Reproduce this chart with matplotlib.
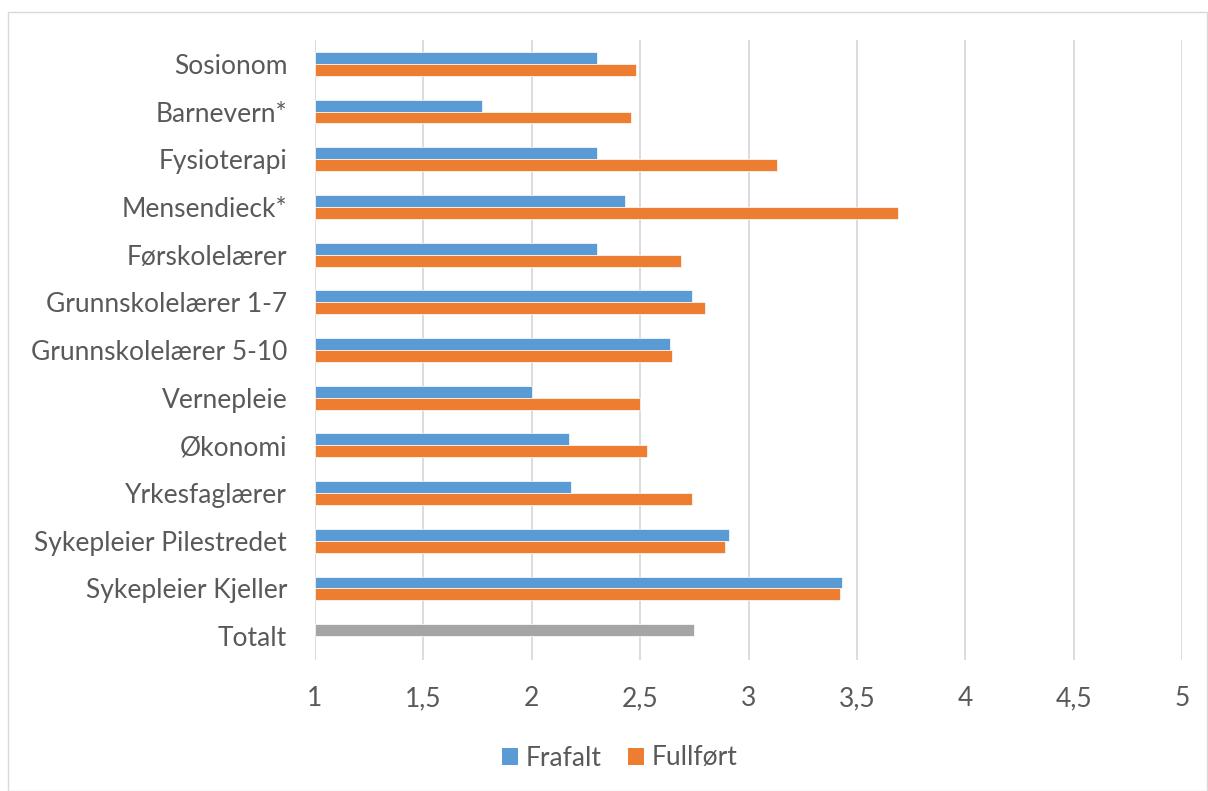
import matplotlib
matplotlib.use("Agg")
import matplotlib.pyplot as plt
from matplotlib.patches import Rectangle, Patch
from matplotlib.ticker import FuncFormatter
import numpy as np

categories = ["Sosionom", "Barnevern*", "Fysioterapi", "Mensendieck*", "Førskolelærer",
              "Grunnskolelærer 1-7", "Grunnskolelærer 5-10", "Vernepleie", "Økonomi",
              "Yrkesfaglærer", "Sykepleier Pilestredet", "Sykepleier Kjeller", "Totalt"]
frafalt = [2.30, 1.77, 2.30, 2.43, 2.30, 2.74, 2.64, 2.00, 2.17, 2.18, 2.91, 3.43, 2.75]
fullfort = [2.48, 2.46, 3.13, 3.69, 2.69, 2.80, 2.645, 2.50, 2.53, 2.74, 2.89, 3.42, np.nan]
xticks = [1, 1.5, 2, 2.5, 3, 3.5, 4, 4.5, 5]

BLUE = "#5B9BD5"
ORANGE = "#ED7D31"
GRAY = "#A5A5A5"
TXT = "#595959"
FS = 19

plt.rcParams['font.family'] = ['Lato', 'DejaVu Sans']

fig = plt.figure(figsize=(12.08, 7.91), dpi=100)
ax = fig.add_axes([315/1208, 1-660/791, (1182-315)/1208, (660-40)/791])

n = len(categories)
y = np.arange(n)
h = 0.25
base = 1.0
fcolors = [BLUE] * (n - 1) + [GRAY]
ax.barh(y - h/2, np.array(frafalt) - base, left=base, height=h, color=fcolors,
        edgecolor="white", linewidth=0.5, zorder=3)
ax.barh(y + h/2, np.array(fullfort) - base, left=base, height=h, color=ORANGE,
        edgecolor="white", linewidth=0.5, zorder=3)

ax.set_xlim(1, 5)
ax.set_ylim(n - 0.5, -0.5)
ax.set_xticks(xticks)
ax.xaxis.set_major_formatter(FuncFormatter(lambda v, p: f"{v:g}".replace(".", ",")))
ax.set_yticks(y)
ax.set_yticklabels(categories)
ax.tick_params(axis='both', length=0, labelsize=FS, colors=TXT)
ax.tick_params(axis='x', pad=19)
ax.tick_params(axis='y', pad=20)
ax.grid(axis='x', color="#D9D9D9", linewidth=1.3, zorder=0)
for s in ax.spines.values():
    s.set_visible(False)

handles = [Patch(facecolor=BLUE, label="Frafalt"), Patch(facecolor=ORANGE, label="Fullført")]
fig.legend(handles=handles, loc="center", bbox_to_anchor=(620/1208, 1-758/791), ncol=2,
           frameon=False, fontsize=FS, labelcolor=TXT, handlelength=0.6, handleheight=0.6,
           handletextpad=0.3, columnspacing=1.0)

fig.patches.append(Rectangle((8/1208, 0), 1199/1208, 1-12/791, transform=fig.transFigure,
                             fill=False, edgecolor="#D9D9D9", linewidth=1))

fig.savefig("out.png", dpi=100)
